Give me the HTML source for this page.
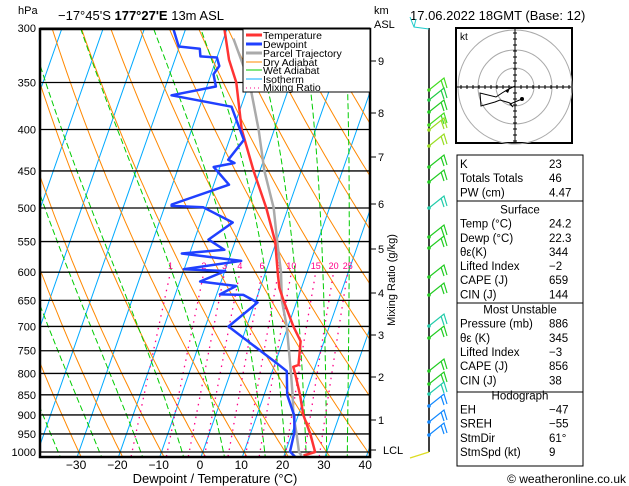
<!DOCTYPE html>
<html><head><meta charset="utf-8"><style>
html,body{margin:0;padding:0;background:#fff;}
svg{display:block;font-family:"Liberation Sans",sans-serif;}
</style></head><body>
<svg id="chart" width="629" height="486" viewBox="0 0 629 486" xmlns="http://www.w3.org/2000/svg">
<defs><clipPath id="plotclip"><rect x="40" y="29" width="330" height="428"/></clipPath></defs>
<rect x="0" y="0" width="629" height="486" fill="#fff"/>
<text x="18" y="14" font-size="11">hPa</text>
<text x="58" y="20" font-size="13">−17°45'S <tspan font-weight="bold">177°27'E</tspan> 13m ASL</text>
<text x="374" y="14" font-size="11">km</text>
<text x="374" y="28" font-size="11">ASL</text>
<text x="410" y="20" font-size="13">17.06.2022 18GMT (Base: 12)</text>
<g id="bg" clip-path="url(#plotclip)"></g>
<g id="isobars"></g>
<g id="series" clip-path="url(#plotclip)"></g>
<g id="legend">
<rect x="243" y="29" width="127" height="63" fill="#fff" stroke="#000" stroke-width="1"/>
<line x1="246" y1="35" x2="262" y2="35" stroke="#ff3333" stroke-width="3"/><text x="263" y="39" font-size="10.5">Temperature</text>
<line x1="246" y1="44" x2="262" y2="44" stroke="#2040ff" stroke-width="3"/><text x="263" y="48" font-size="10.5">Dewpoint</text>
<line x1="246" y1="53" x2="262" y2="53" stroke="#aaa" stroke-width="3"/><text x="263" y="57" font-size="10.5">Parcel Trajectory</text>
<line x1="246" y1="62" x2="262" y2="62" stroke="#ff8800" stroke-width="1"/><text x="263" y="66" font-size="10.5">Dry Adiabat</text>
<line x1="246" y1="70" x2="262" y2="70" stroke="#00cc00" stroke-width="1"/><text x="263" y="74" font-size="10.5">Wet Adiabat</text>
<line x1="246" y1="79" x2="262" y2="79" stroke="#00aaff" stroke-width="1"/><text x="263" y="83" font-size="10.5">Isotherm</text>
<line x1="246" y1="88" x2="262" y2="88" stroke="#ff0088" stroke-width="1" stroke-dasharray="1,3"/><text x="263" y="91" font-size="10.5">Mixing Ratio</text>
</g>
<rect x="40" y="29" width="330" height="428" fill="none" stroke="#000" stroke-width="2.5"/>
<g id="axes"></g>
<text x="215" y="483" font-size="13" text-anchor="middle">Dewpoint / Temperature (°C)</text>
<text transform="translate(395,280) rotate(-90)" font-size="11" text-anchor="middle">Mixing Ratio (g/kg)</text>
<g id="wind"></g>
<g id="hodo">
<rect x="456" y="28" width="116" height="115" fill="#fff" stroke="#000" stroke-width="2"/>
<text x="460" y="40" font-size="10">kt</text>
</g>
<g id="table"></g>
<text x="626" y="483" font-size="12" text-anchor="end">© weatheronline.co.uk</text>
</svg>
<script>
const tempP=[1010,1000,950,900,850,800,785,781,730,700,650,627,600,550,500,450,400,350,328,300];
const tempT=[24.7,27.2,24.5,21.2,18.7,15.7,14.7,15.8,14.3,11.3,6.7,4.6,2.9,-0.3,-5.3,-11.5,-17.9,-23.2,-26.9,-30.7];
const dewP=[1014,999,945,902,850,795,777,700,654,640,639,624,616,598,595,581,569,563,547,521,499,497,495,468,445,440,436,412,406,375,363,354,342,334,326,325,318,316,301];
const dewT=[22.8,21.1,20.5,19.1,15.6,13.5,10.4,-4.4,0.6,-3.5,-9.2,-6.0,-15.1,-9.9,-20.1,-6.9,-21.9,-11.9,-16.6,-12.2,-20.6,-28.4,-28.5,-16.3,-21.5,-16.8,-18.6,-16.5,-17.4,-22.3,-37.8,-27.8,-29.4,-28.7,-30,-34.1,-34.9,-40.2,-42.9];
const parcelP=[1010,1000,950,900,850,800,700,650,600,550,500,450,400,350,309];
const parcelT=[24.2,23.3,21.2,18.8,16.9,14.7,9.7,6.3,3.7,0.2,-3.5,-8.9,-13.8,-20,-27.6];
const isobarLevels=[300,350,400,450,500,550,600,650,700,750,800,850,900,950,1000];
const xTickLabels=[-30,-20,-10,0,10,20,30,40];
const mixRatios=[1,2,3,4,6,8,10,15,20,25];
const wetAdiabats=[-35,-25,-15,-5,5,15,20,25,30,35];
const kmLabels=["1","2","3","4","5","6","7","8","9"];
const kmY=[420,377,335,293,249,204,157,113,61];

const NS="http://www.w3.org/2000/svg";
function Y(p){return 452+352*Math.log(p/1000);}
function X(T,p){return 201+4.13*T+0.35*(457-Y(p));}
function mk(tag,attrs,parent){const e=document.createElementNS(NS,tag);for(const k in attrs)e.setAttribute(k,attrs[k]);parent.appendChild(e);return e;}
function pathFrom(pts){return pts.map((q,i)=>(i?"L":"M")+q[0].toFixed(1)+","+q[1].toFixed(1)).join("");}
const bg=document.getElementById('bg');
for(let T=-130;T<=50;T+=10){
 const l=mk('line',{x1:X(T,1050),y1:Y(1050),x2:X(T,280),y2:Y(280),stroke:'#00aaff','stroke-width':1},bg);
 
 
}
for(let th=-50;th<=210;th+=10){
 const pts=[];for(let p=1050;p>=280;p-=10){const T=(th+273.15)*Math.pow(p/1000,0.2857)-273.15;pts.push([X(T,p),Y(p)]);}
 const e=mk('path',{d:pathFrom(pts),fill:'none',stroke:'#ff8800','stroke-width':1},bg);
 
 
}
function es(T){return 6.112*Math.exp(17.67*T/(T+243.5));}
for(const tw of wetAdiabats){
 const pts=[];let Tk=tw+273.15;
 for(let pp=1000;pp<1050;pp+=2){const rs=0.622*es(Tk-273.15)/(pp-es(Tk-273.15));const d=((287*Tk+2.5e6*rs)/pp)/(1004+2.5e6*2.5e6*rs*0.622/(287*Tk*Tk));Tk+=d*2;}
 for(let pp=1050;pp>=280;pp-=2){const Tc=Tk-273.15;if(pp%10===0)pts.push([X(Tc,pp),Y(pp)]);const rs=0.622*es(Tc)/(pp-es(Tc));const d=((287*Tk+2.5e6*rs)/pp)/(1004+2.5e6*2.5e6*rs*0.622/(287*Tk*Tk));Tk-=d*2;}
 const e=mk('path',{d:pathFrom(pts),fill:'none',stroke:'#00cc00','stroke-width':1,'stroke-dasharray':'6,3'},bg);
 
 
}
for(const w of mixRatios){
 const pts=[];
 for(let p=1050;p>=600;p-=10){const e=(w/1000)*p/(0.622+w/1000);const L=Math.log(e/6.112);const T=243.5*L/(17.67-L);pts.push([X(T,p),Y(p)]);}
 const e=mk('path',{d:pathFrom(pts),fill:'none',stroke:'#ff0088','stroke-width':1.3,'stroke-dasharray':'1.5,5'},bg);
 
 
 const ev=(w/1000)*600/(0.622+w/1000);const L=Math.log(ev/6.112);const T=243.5*L/(17.67-L);
 const t=mk('text',{x:X(T,600),y:Y(600)-3,'font-size':9,fill:'#ff0088','text-anchor':'middle'},bg);t.textContent=w;
 
 
}
const iso=document.getElementById('isobars');const ax=document.getElementById('axes');
for(const p of isobarLevels){
 const l=mk('line',{x1:40,x2:370,y1:Y(p),y2:Y(p),stroke:'#000','stroke-width':1.3},iso);
 
 
 const t=mk('text',{x:36,y:Y(p)+4,'font-size':11,'text-anchor':'end'},ax);t.textContent=p;
 
 
}
for(const T of xTickLabels){
 const t=mk('text',{x:200+4.13*T,y:469,'font-size':12,'text-anchor':'middle'},ax);t.textContent=(T<0?'−'+(-T):T);
 
 
}
kmLabels.forEach((k,i)=>{
 mk('line',{x1:370,x2:376,y1:kmY[i],y2:kmY[i],stroke:'#000'},ax);
 const t=mk('text',{x:378,y:kmY[i]+4,'font-size':11},ax);t.textContent=k;
 
 
});
mk('line',{x1:370,x2:376,y1:450,y2:450,stroke:'#000'},ax);
const lcl=mk('text',{x:383,y:454,'font-size':11},ax);lcl.textContent='LCL';


const ser=document.getElementById('series');
function line(P,T,color,w,name){const pts=P.map((p,i)=>[X(T[i],p),Y(p)]);const e=mk('path',{d:pathFrom(pts),fill:'none',stroke:color,'stroke-width':w,'stroke-linejoin':'round'},ser);}
line(parcelP,parcelT,'#aaaaaa',2.5,'parcel-trajectory');
line(tempP,tempT,'#ff3333',2.5,'temperature-line');
line(dewP,dewT,'#2040ff',2.5,'dewpoint-line');
document.getElementById('legend').parentNode.appendChild(document.getElementById('legend'));
const wind=document.getElementById('wind');
mk('line',{x1:429,x2:429,y1:28,y2:452,stroke:'#000','stroke-width':1.5},wind);
const barbY=[29,90,100,112,125,130,146,167,182,208,237,248,277,295,326,338,371,384,394,406,422,435];
const barbC=['#22cccc','#44dd22','#22cc44','#22cc22','#44dd22','#99dd22','#99dd22','#22cc22','#22cc22','#22ccaa','#22cc22','#22cc22','#22cc22','#22cc22','#22ccaa','#22cc22','#22cc22','#22cc22','#22ccaa','#1188ff','#1188ff','#1188ff'];
barbY.forEach((y,i)=>{
 const c=barbC[i];
 const g=mk('g',{},wind);
 
 
 if(i===0){mk('path',{d:`M429,${y} L414,${y-2} L410,${y-12} M414,${y-2} L416,${y-10}`,fill:'none',stroke:c},g);return;}
 mk('path',{d:`M429,${y} L444,${y-12} L447,${y-2} M441,${y-10} L444,${y-1}`,fill:'none',stroke:c,'stroke-width':1.2},g);
 mk('circle',{cx:429,cy:y,r:1.8,fill:c},g);
});
mk('path',{d:'M429,452 L410,458',stroke:'#dddd22','stroke-width':1.2},wind);
const hodo=document.getElementById('hodo');
[19,37,57].forEach(r=>mk('circle',{cx:515,cy:87,r:r,fill:'none',stroke:'#aaa'},hodo));
mk('line',{x1:457,x2:571,y1:87,y2:87,stroke:'#000'},hodo);
mk('line',{x1:515,x2:515,y1:29,y2:142,stroke:'#000'},hodo);
for(let d=-54;d<=54;d+=6){mk('line',{x1:515+d,x2:515+d,y1:85,y2:89,stroke:'#000'},hodo);mk('line',{x1:513,x2:517,y1:87+d,y2:87+d,stroke:'#000'},hodo);}
mk('path',{d:'M515,86 L507,90 L502,93 L496,97 L480,93 L481,106 L495,102 L500,100 L510,103 L513,107 L510,104 L522,99',fill:'none',stroke:'#000'},hodo);
mk('circle',{cx:522,cy:99,r:2,fill:'#000'},hodo);
mk('path',{d:'M505,91 L510,88 L508,93 Z',fill:'#000'},hodo);
const tb=document.getElementById('table');
const rows=[["K","23"],["Totals Totals","46"],["PW (cm)","4.47"],["#Surface"],["Temp (°C)","24.2"],["Dewp (°C)","22.3"],["θε(K)","344"],["Lifted Index","−2"],["CAPE (J)","659"],["CIN (J)","144"],["#Most Unstable"],["Pressure (mb)","886"],["θε (K)","345"],["Lifted Index","−3"],["CAPE (J)","856"],["CIN (J)","38"],["#Hodograph"],["EH","−47"],["SREH","−55"],["StmDir","61°"],["StmSpd (kt)","9"]];
const secTop=[155,201,303,392];const secBot=[201,303,392,466];
secTop.forEach((t,i)=>mk('rect',{x:457,y:t,width:126,height:secBot[i]-t,fill:'none',stroke:'#000','stroke-width':1},tb));
let y=168;
rows.forEach(r=>{
 if(r[0][0]==='#'){const t=mk('text',{x:520,y:y,'font-size':11.5,'text-anchor':'middle'},tb);t.textContent=r[0].slice(1);
  
  }
 else{const a=mk('text',{x:460,y:y,'font-size':11.5},tb);a.textContent=r[0];
  
  
  const b=mk('text',{x:549,y:y,'font-size':11.5},tb);b.textContent=r[1];
  
  }
 y+=14.15;
 if(r[0]==='PW (cm)')y+=3; if(r[0]==='CIN (J)')y+=1;
});
</script>
</body></html>
